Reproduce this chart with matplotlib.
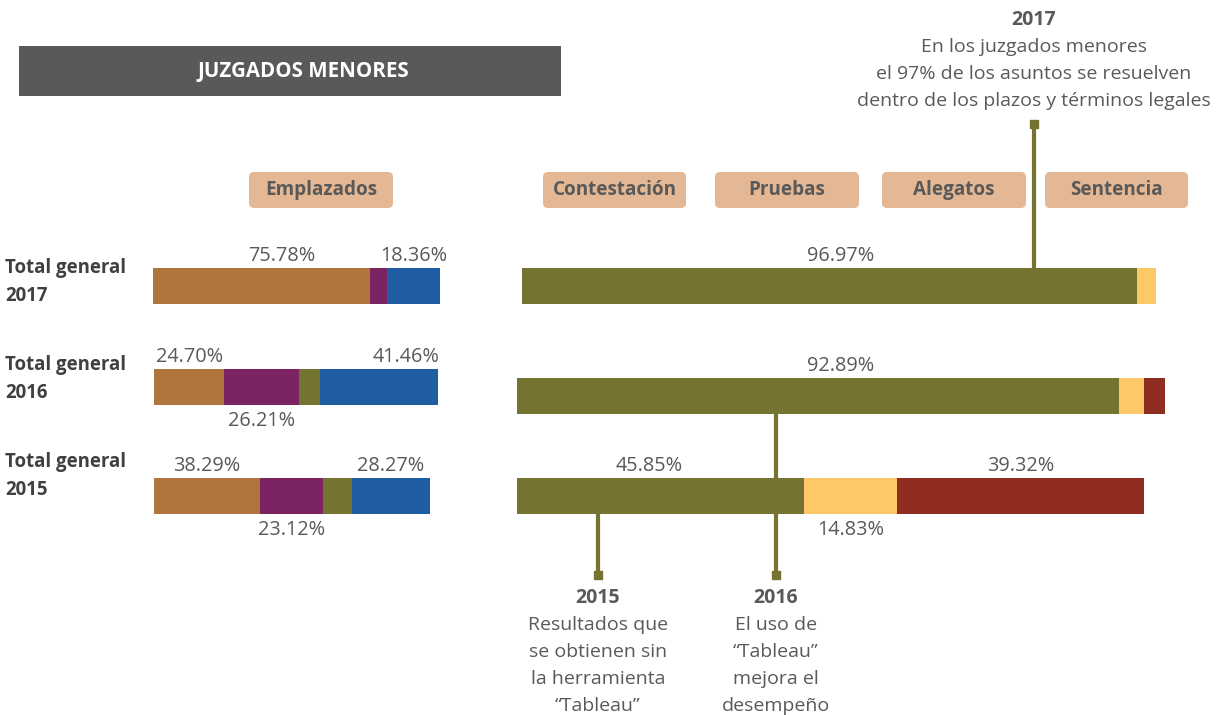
import matplotlib

matplotlib.use("Agg")
import matplotlib.pyplot as plt
from matplotlib.patches import Rectangle, FancyBboxPatch

# --- data -----------------------------------------------------------------
row_labels = ["Total general\n2017", "Total general\n2016", "Total general\n2015"]

# Emplazados (left block), one value per row 2017, 2016, 2015
emp_brown = [75.78, 24.70, 38.29]
emp_purple = [5.86, 26.21, 23.12]
emp_olive = [0.00, 7.63, 10.32]
emp_blue = [18.36, 41.46, 28.27]

# Contestación -> Sentencia (right block)
res_olive = [96.97, 92.89, 45.85]
res_yellow = [3.03, 3.86, 14.83]
res_red = [0.00, 3.25, 39.32]

phase_headers = ["Contestación", "Pruebas", "Alegatos", "Sentencia"]

# which segments carry a value label: (segment index, "above"/"below", x shift px)
emp_shown = [[(0, "above", 20), (3, "above", 0)],
             [(0, "above", 0), (1, "below", 0), (3, "above", 27)],
             [(0, "above", 0), (1, "below", 0), (3, "above", 0)]]
res_shown = [[(0, "above", 11)],
             [(0, "above", 23)],
             [(0, "above", -12), (1, "below", 0), (2, "above", 0)]]

# --- style -----------------------------------------------------------------
FONT = ["Open Sans", "DejaVu Sans"]
plt.rcParams["font.family"] = FONT
GRAY = "#595959"
DARK = "#404040"
OLIVE_LINE = "#767331"
emp_colors = ["#AE753D", "#7B2363", "#747331", "#1F5DA3"]
res_colors = ["#747331", "#FDC967", "#8F2D20"]
BOX = "#E4B894"

W, H = 1218, 715
fig = plt.figure(figsize=(W / 100, H / 100), dpi=100)

# overlay axes in pixel coordinates for text, boxes and callouts
ov = fig.add_axes([0, 0, 1, 1])
ov.set_xlim(0, W)
ov.set_ylim(H, 0)
ov.axis("off")


def px_axes(x0, x1, y0, y1):
    ax = fig.add_axes([x0 / W, 1 - y1 / H, (x1 - x0) / W, (y1 - y0) / H])
    ax.set_xlim(0, 100)
    ax.set_ylim(0, 1)
    ax.axis("off")
    return ax


def stacked_row(ax, values, colors, shown):
    left = 0
    spans = []
    for v, c in zip(values, colors):
        ax.barh(0.5, v, left=left, height=1.0, color=c, linewidth=0)
        spans.append((left, v))
        left += v
    for idx, where, dx in shown:
        start, v = spans[idx]
        yy, dy = (1, 12) if where == "above" else (0, -16)
        ax.annotate(f"{v:.2f}%", xy=(start + v / 2, yy), xytext=(dx, dy),
                    textcoords="offset pixels", ha="center", va="center",
                    fontsize=14.3, color=GRAY, annotation_clip=False)


# title bar
ov.add_patch(Rectangle((19, 46), 542, 50, color="#58595B", linewidth=0))
ov.text(303, 71, "JUZGADOS MENORES", ha="center", va="center",
        fontsize=14.8, fontweight="bold", color="white")

# header boxes
headers = [("Emplazados", 249, 393)] + list(zip(phase_headers,
                                                 [543, 715, 882, 1045],
                                                 [686, 859, 1026, 1188]))
for name, x0, x1 in headers:
    ov.add_patch(FancyBboxPatch((x0 + 5, 177), x1 - x0 - 10, 26,
                                boxstyle="round,pad=5", color=BOX, linewidth=0))
    ov.text((x0 + x1) / 2, 190, name, ha="center", va="center",
            fontsize=13.6, fontweight="bold", color=GRAY)

# row labels
for lab, yc in zip(row_labels, [282, 379, 476]):
    ov.text(5, yc, lab, ha="left", va="center", fontsize=13.4,
            fontweight="bold", color=DARK, linespacing=1.5)

# bars
left_rows = [(153, 440, 268, 304), (154, 438, 369, 405), (154, 430, 478, 514)]
right_rows = [(522, 1156, 268, 304), (517, 1165, 378, 414), (517, 1144, 478, 514)]
for i in range(3):
    ax = px_axes(*left_rows[i])
    stacked_row(ax, [emp_brown[i], emp_purple[i], emp_olive[i], emp_blue[i]],
                emp_colors, emp_shown[i])
    ax = px_axes(*right_rows[i])
    stacked_row(ax, [res_olive[i], res_yellow[i], res_red[i]],
                res_colors, res_shown[i])

# callouts
callouts = [
    (1034, 124, 268, 20,
     ["2017", "En los juzgados menores", "el 97% de los asuntos se resuelven",
      "dentro de los plazos y términos legales"]),
    (598, 575, 514, 598,
     ["2015", "Resultados que", "se obtienen sin", "la herramienta", "“Tableau”"]),
    (776, 575, 414, 598,
     ["2016", "El uso de", "“Tableau”", "mejora el", "desempeño"]),
]
for x, ym, yb, ytxt, lines in callouts:
    ov.plot([x, x], [ym, yb], color=OLIVE_LINE, linewidth=3, zorder=1)
    ov.plot(x, ym, marker="s", markersize=6, color=OLIVE_LINE, zorder=1)
    for k, t in enumerate(lines):
        ov.text(x, ytxt + 27 * k, t, ha="center", va="center", fontsize=14,
                color=GRAY, fontweight="bold" if k == 0 else "normal")

fig.savefig("out.png", dpi=100)
